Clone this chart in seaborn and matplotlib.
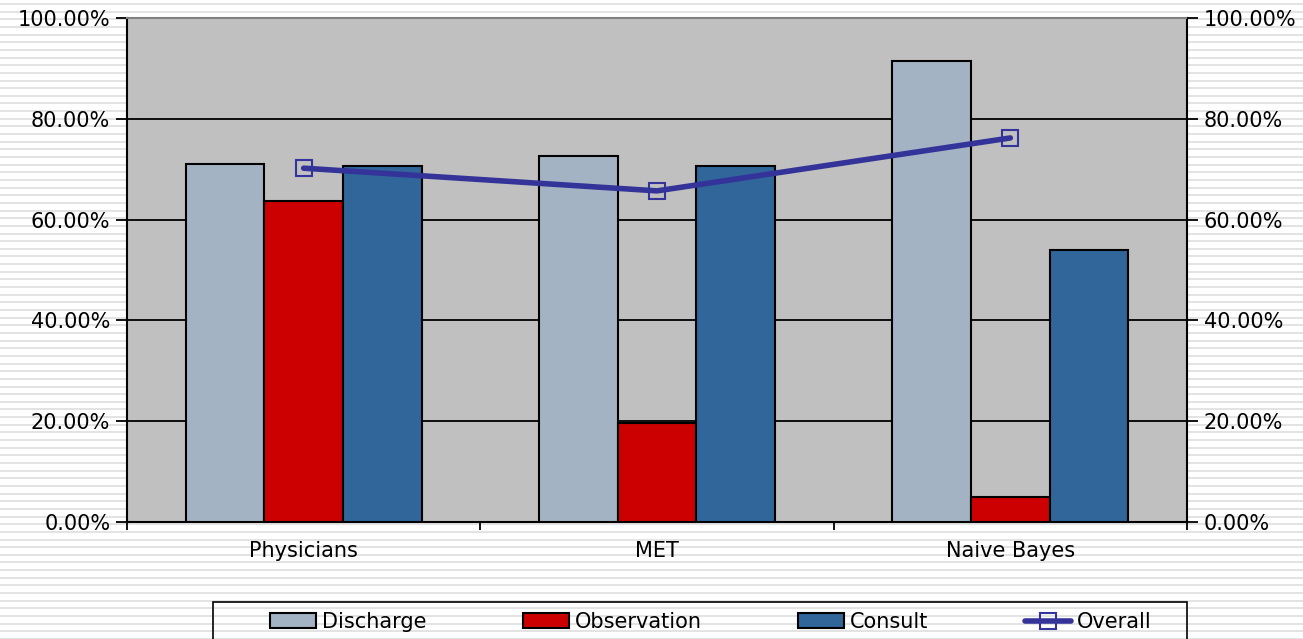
import numpy as np
import pandas as pd
import matplotlib.pyplot as plt
import matplotlib as mpl
import seaborn as sns
from matplotlib.patches import Rectangle
from matplotlib.ticker import FuncFormatter, FixedLocator

# ---------------------------------------------------
# data
# ---------------------------------------------------
models = ["Physicians", "MET", "Naive Bayes"]
discharge = [0.710, 0.726, 0.915]
observation = [0.637, 0.196, 0.050]
consult = [0.706, 0.706, 0.540]
overall = [0.702, 0.657, 0.762]

series_names = ["Discharge", "Observation", "Consult"]
colors = {"Discharge": "#A3B3C3", "Observation": "#CC0000", "Consult": "#31669A"}
line_color = "#333399"

df = pd.DataFrame({
    "model": models * 3,
    "type": [s for s in series_names for _ in models],
    "value": discharge + observation + consult,
})

sns.set_style("white")
plt.rcParams["font.family"] = ["DejaVu Sans"]
mpl.rcParams["font.size"] = 15
mpl.rcParams["text.color"] = "black"
mpl.rcParams["xtick.color"] = "black"
mpl.rcParams["ytick.color"] = "black"

W, H = 1303, 639
fig = plt.figure(figsize=(W / 100, H / 100), dpi=100)

# striped page background
bg = fig.add_axes([0, 0, 1, 1], zorder=-10)
bg.set_xlim(0, W)
bg.set_ylim(H, 0)
for y in np.arange(3, H, 7.65):
    bg.axhspan(y, y + 2, color="#E3E3E3", lw=0)
bg.axis("off")

ax = fig.add_axes([127 / W, 1 - 522 / H, (1187 - 127) / W, (522 - 18) / H])
ax.set_facecolor("#C0C0C0")

sns.barplot(data=df, x="model", y="value", hue="type", palette=colors,
            saturation=1, width=0.667, edgecolor="black", linewidth=1.5,
            ax=ax, zorder=3)
sns.lineplot(x=[0, 1, 2], y=overall, color=line_color, lw=4, marker="s",
             markersize=11, markerfacecolor="none", markeredgecolor=line_color,
             markeredgewidth=1.5, ax=ax, zorder=5, label="Overall")

ax.set_xlim(-0.5, 2.5)
ax.set_ylim(0, 1)
pct = FuncFormatter(lambda v, p: f"{v * 100:.2f}%")
ax.yaxis.set_major_locator(FixedLocator([0, 0.2, 0.4, 0.6, 0.8, 1.0]))
ax.yaxis.set_major_formatter(pct)
ax.grid(axis="y", color="black", lw=1.3, zorder=0)
ax.set_axisbelow(True)
ax.set_xlabel("")
ax.set_ylabel("")
ax.tick_params(axis="y", left=True, length=8, width=1.3, direction="out", pad=4, labelsize=15)
ax.tick_params(axis="x", which="major", length=0, pad=14, labelsize=15)
ax.set_xticks([-0.5, 0.5, 1.5, 2.5], minor=True)
ax.tick_params(axis="x", which="minor", bottom=True, length=6, width=1.3, direction="out")
for s in ["left", "bottom", "right"]:
    ax.spines[s].set_color("black")
    ax.spines[s].set_linewidth(1.5)
ax.spines["top"].set_color("#808080")
ax.spines["top"].set_linewidth(1.5)

ax2 = ax.twinx()
ax2.set_ylim(0, 1)
ax2.yaxis.set_major_locator(FixedLocator([0, 0.2, 0.4, 0.6, 0.8, 1.0]))
ax2.yaxis.set_major_formatter(pct)
ax2.tick_params(axis="y", right=True, length=8, width=1.3, direction="out", pad=4, labelsize=15)
for s in ax2.spines.values():
    s.set_visible(False)

handles, labels = ax.get_legend_handles_labels()
ax.get_legend().remove()

# legend box
fig.add_artist(Rectangle((213 / W, -0.05), (1187 - 213) / W, 0.05 + 1 - 602 / H,
                         transform=fig.transFigure, fill=False, ec="black", lw=1.2))
fig.legend(handles, labels, loc="center", ncol=4, frameon=False,
           bbox_to_anchor=(262 / W, 1 - 638 / H, (1160 - 262) / W, 32 / H),
           mode="expand", handlelength=2.2, handletextpad=0.3, fontsize=15,
           borderaxespad=0)

fig.savefig("out.png", dpi=100)
